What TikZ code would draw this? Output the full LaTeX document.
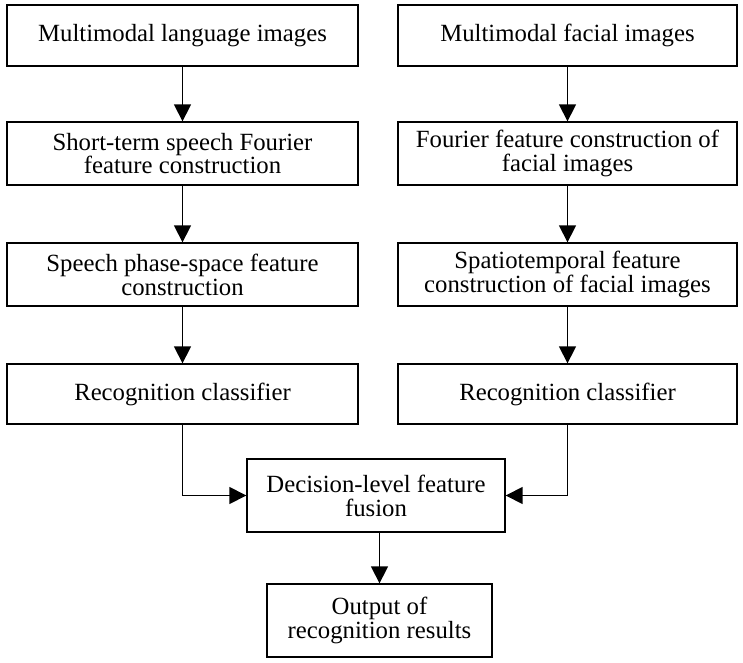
\documentclass[tikz,border=0pt]{standalone}
\usepackage{fontspec}
\setmainfont{Liberation Serif}
\usetikzlibrary{arrows.meta}

\begin{document}
\begin{tikzpicture}[x=0.025cm,y=-0.025cm,
		box/.style={draw,line width=0.9pt,align=center,inner sep=2pt,
			font=\fontsize{17.6pt}{17pt}\selectfont},
		flow/.style={line width=0.9pt,-{Triangle[length=12pt,width=12pt]}}]
	
	% Page frame
	\useasboundingbox (0,0) rectangle (743,663);
	
	% Speech branch (left)
	\node[box,minimum width=8.775cm,minimum height=1.525cm] (lang) at (182.5,35.5) {Multimodal language images};
	\node[box,minimum width=8.775cm,minimum height=1.575cm] (sfour) at (182.5,153.5) {Short-term speech Fourier\\feature construction};
	\node[box,minimum width=8.775cm,minimum height=1.575cm] (sphase) at (182.5,274.5) {Speech phase-space feature\\construction};
	\node[box,minimum width=8.775cm,minimum height=1.5cm] (sclass) at (182.5,394) {Recognition classifier};
	
	% Facial branch (right)
	\node[box,minimum width=8.475cm,minimum height=1.525cm] (face) at (567.5,35.5) {Multimodal facial images};
	\node[box,minimum width=8.475cm,minimum height=1.575cm] (ffour) at (567.5,153.5) {Fourier feature construction of\\facial images};
	\node[box,minimum width=8.475cm,minimum height=1.575cm] (fspat) at (567.5,274.5) {Spatiotemporal feature\\construction of facial images};
	\node[box,minimum width=8.475cm,minimum height=1.5cm] (fclass) at (567.5,394) {Recognition classifier};
	
	% Fusion and output
	\node[box,minimum width=6.45cm,minimum height=1.825cm] (fusion) at (376,495.5) {Decision-level feature\\fusion};
	\node[box,minimum width=5.625cm,minimum height=1.825cm] (out) at (379.5,620.5) {Output of\\recognition results};
	
	% Arrows
	\draw[flow] (lang) -- (sfour);
	\draw[flow] (sfour) -- (sphase);
	\draw[flow] (sphase) -- (sclass);
	\draw[flow] (face) -- (ffour);
	\draw[flow] (ffour) -- (fspat);
	\draw[flow] (fspat) -- (fclass);
	\draw[flow] (sclass.south) |- (fusion.west);
	\draw[flow] (fclass.south) |- (fusion.east);
	\draw[flow] (fusion.south -| out.north) -- (out.north);
	
\end{tikzpicture}
\end{document}
